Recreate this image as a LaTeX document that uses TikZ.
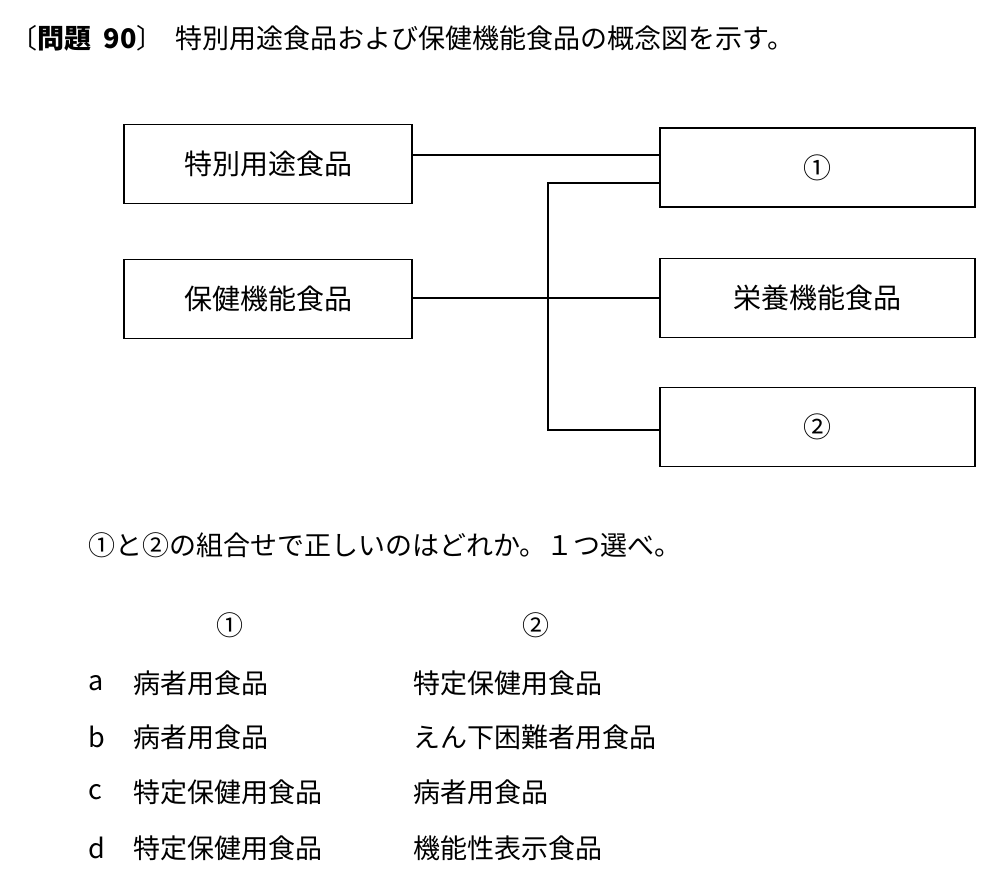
\documentclass[tikz,border=0pt]{standalone}
\usepackage{fontspec}
\setmainfont{Noto Sans CJK JP}
\begin{document}
\begin{tikzpicture}[x=0.5pt,y=-0.5pt,
  box/.style={draw,line width=0.8pt,minimum width=144pt,minimum height=39.5pt,font=\fontsize{14}{16}\selectfont},
  conn/.style={line width=0.6pt},
  txt/.style={anchor=west,inner sep=0,font=\fontsize{13.5}{16}\selectfont}]
\useasboundingbox (0,0) rectangle (1000,881);
\node[txt] (title) at (10,38) {〔\textbf{問題\ \ 90}〕\ \ 特別用途食品および保健機能食品の概念図を示す。};
\node[box] (a) at (268,164) {特別用途食品};
\node[box] (b) at (268,299) {保健機能食品};
\node[box,minimum width=157.5pt] (r1) at (817.5,167.5) {①};
\node[box,minimum width=157.5pt] (r2) at (817.5,298) {栄養機能食品};
\node[box,minimum width=157.5pt] (r3) at (817.5,427) {②};
\coordinate (j1) at (548,183);
\coordinate (j2) at (548,430);
\draw[conn] (a.east |- 0,155) -- (r1.west |- 0,155);
\draw[conn] (b.east |- 0,298) -- (r2.west |- 0,298);
\draw[conn] (r1.west |- j1) -- (j1) -- (j2) -- (r3.west |- j2);
\node[txt] (q) at (88,545) {①と②の組合せで正しいのはどれか。１つ選べ。};
\node[txt] (h1) at (216,625) {①};
\node[txt] (h2) at (522,625) {②};
\node[txt] (la) at (88,683) {a};
\node[txt] (a1) at (133,683) {病者用食品};
\node[txt] (a2) at (413,683) {特定保健用食品};
\node[txt] (lb) at (88,737) {b};
\node[txt] (b1) at (133,737) {病者用食品};
\node[txt] (b2) at (413,737) {えん下困難者用食品};
\node[txt] (lc) at (88,792) {c};
\node[txt] (c1) at (133,792) {特定保健用食品};
\node[txt] (c2) at (413,792) {病者用食品};
\node[txt] (ld) at (88,848) {d};
\node[txt] (d1) at (133,848) {特定保健用食品};
\node[txt] (d2) at (413,848) {機能性表示食品};
\end{tikzpicture}
\end{document}
